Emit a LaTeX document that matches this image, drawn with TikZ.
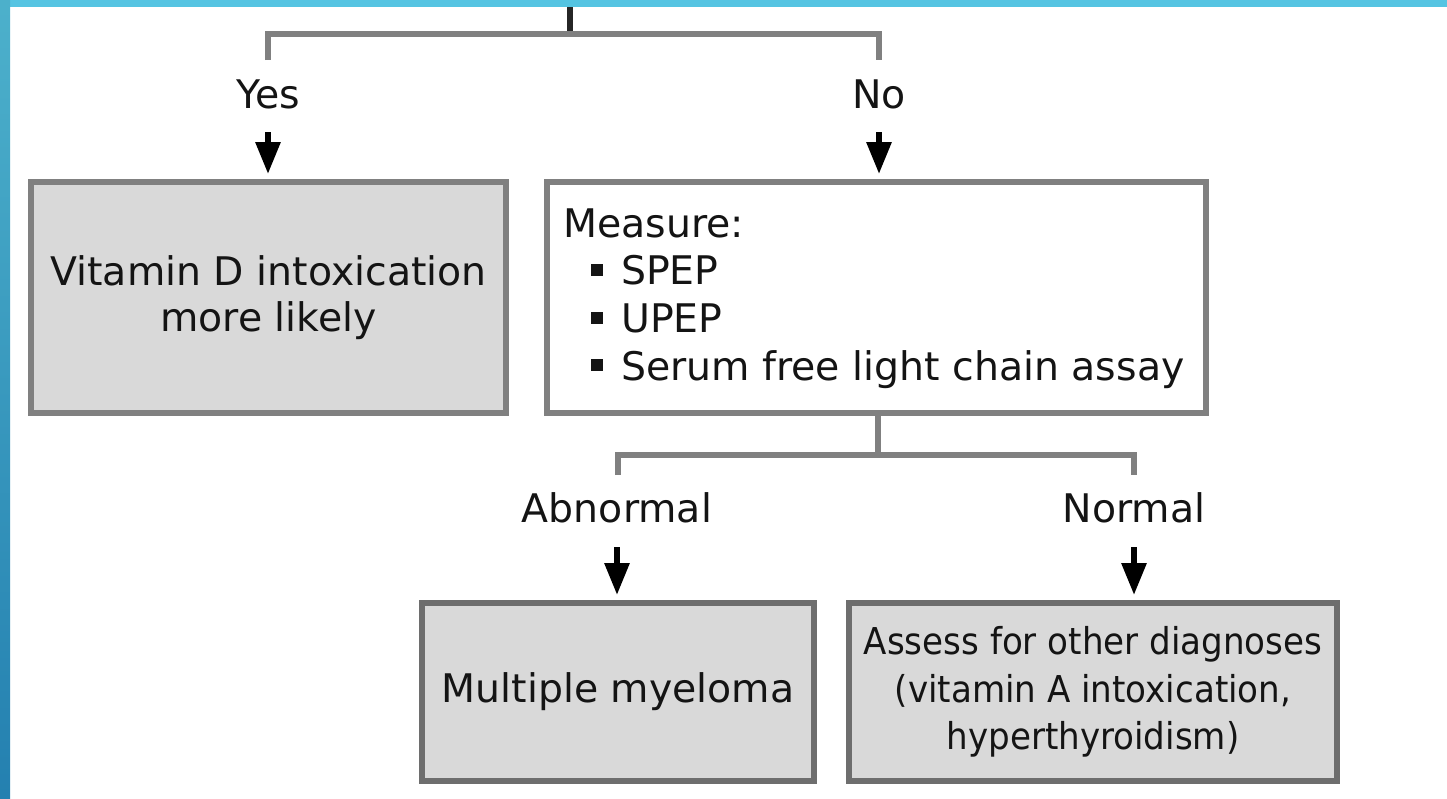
\documentclass[tikz,border=0pt]{standalone}
\usepackage{fontspec}
\setmainfont{DejaVu Sans}
\newfontfamily\narrowfont{DejaVu Sans}[FakeStretch=0.922]
\usetikzlibrary{arrows.meta}
\definecolor{linegray}{RGB}{128,128,128}
\definecolor{darkborder}{RGB}{110,110,110}
\definecolor{boxfill}{RGB}{217,217,217}
\definecolor{bluetop}{RGB}{85,196,226}
\definecolor{bluebot}{RGB}{36,128,176}
\definecolor{txt}{RGB}{20,20,20}
\begin{document}
\begin{tikzpicture}[x=1pt,y=-1pt,
  conn/.style={draw=linegray, line width=6pt, line join=miter},
  arr/.style={draw=black, line width=6pt, -{Triangle[length=32pt,width=24pt,sep=5pt]}},
  lbl/.style={inner sep=0pt, text height=29pt, text depth=0pt, anchor=base, text=txt, font=\fontsize{39.4}{47}\selectfont},
  box/.style={draw=linegray, line width=6pt, fill=boxfill, inner sep=0pt, text=txt, align=center, font=\fontsize{39.4}{47}\selectfont},
  lowbox/.style={box, draw=darkborder, minimum height=178pt},
]
\useasboundingbox (0,0) rectangle (1447,798);
\fill[white] (0,0) rectangle (1447,798);

% top connectors
\coordinate (top) at (570,0);
\coordinate (split1) at (570,34);
\coordinate (yesstub) at (268,60);
\coordinate (nostub) at (879,60);
\draw[conn, draw=black!85] (top) -- (split1);
\draw[conn] (yesstub) |- (split1) -| (nostub);

% labels
\node[lbl] (yes) at (268,108) {Yes};
\node[lbl] (no) at (879,108) {No};

% upper boxes
\node[box, minimum width=475pt, minimum height=231pt, font=\fontsize{39.4}{46}\selectfont] (vit) at (268.5,297.5) {Vitamin D intoxication\\more likely};
\node[box, fill=white, minimum width=659pt, minimum height=231pt] (meas) at (876.5,297.5) {};
\node[inner sep=0pt, anchor=north west, align=left, text=txt, font=\fontsize{39.4}{47.7}\selectfont] (meastext) at (563,208.3)
  {Measure:\\
   \hspace*{28pt}\rule[9pt]{12pt}{12pt}\hspace{18pt}SPEP\\
   \hspace*{28pt}\rule[9pt]{12pt}{12pt}\hspace{18pt}UPEP\\
   \hspace*{28pt}\rule[9pt]{12pt}{12pt}\hspace{18pt}Serum free light chain assay};

\draw[arr, shorten <=24pt] (yes) -- (yes |- vit.north);
\draw[arr, shorten <=24pt] (no) -- (no |- meas.north);

% lower connectors
\coordinate (split2) at (878,455);
\coordinate (abnstub) at (618,475);
\coordinate (norstub) at (1134,475);
\draw[conn] (meas.south -| split2) -- (split2);
\draw[conn] (abnstub) |- (split2) -| (norstub);

\node[lbl] (abn) at (617,522) {Abnormal};
\node[lbl] (nor) at (1134,522) {Normal};

% lower boxes
\node[lowbox, minimum width=392pt] (mm) at (618,692) {\raisebox{-4pt}{Multiple myeloma}};
\node[lowbox, minimum width=488pt, font=\narrowfont\fontsize{37}{47.5}\selectfont] (assess) at (1093,692)
  {Assess for other diagnoses\\(vitamin A intoxication,\\hyperthyroidism)};

\draw[arr, shorten <=25pt] (abn) -- (abn |- mm.north);
\draw[arr, shorten <=25pt] (nor) -- (nor |- assess.north);

% blue frame
\fill[bluetop] (0,0) rectangle (1447,7);
\shade[top color=bluetop!90!black, bottom color=bluebot] (0,0) rectangle (10,798);
\end{tikzpicture}
\end{document}
